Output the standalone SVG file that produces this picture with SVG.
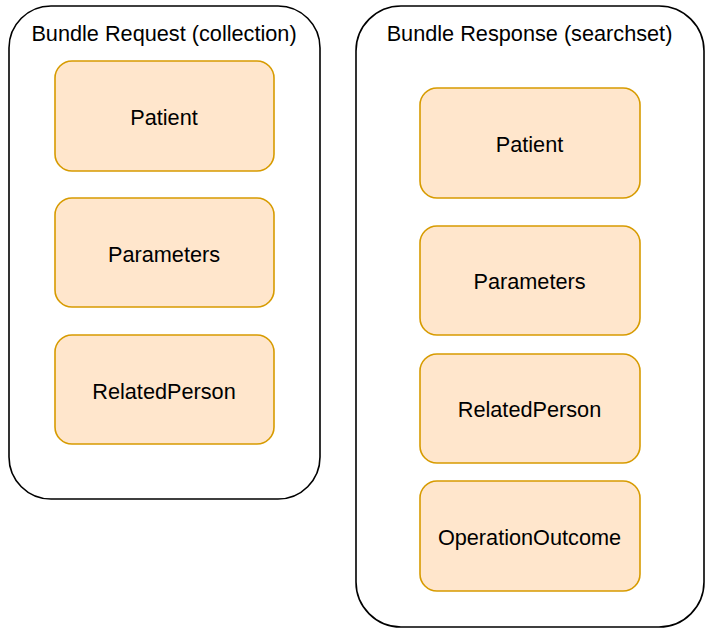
<svg xmlns="http://www.w3.org/2000/svg" width="710" height="636" viewBox="0 0 710 636">
<style>
.container{fill:#ffffff;stroke:#000000;stroke-width:1.6}
.item{fill:#ffe6cc;stroke:#d79b00;stroke-width:1.6}
text{font-family:"Liberation Sans",Arial,sans-serif;font-size:21.7px;fill:#000000;text-anchor:middle}
</style>
<rect width="710" height="636" fill="#ffffff"/>
<g id="bundle-request">
<rect class="container" x="9" y="6" width="311" height="493" rx="42" ry="42"/>
<text x="164" y="41">Bundle Request (collection)</text>
</g>
<g id="req-patient">
<rect class="item" x="55" y="61" width="219" height="110" rx="17" ry="17"/>
<text x="164" y="125">Patient</text>
</g>
<g id="req-parameters">
<rect class="item" x="55" y="198" width="219" height="109" rx="17" ry="17"/>
<text x="164" y="262">Parameters</text>
</g>
<g id="req-relatedperson">
<rect class="item" x="55" y="335" width="219" height="109" rx="17" ry="17"/>
<text x="164" y="399">RelatedPerson</text>
</g>
<g id="bundle-response">
<rect class="container" x="356" y="6" width="348" height="621" rx="45" ry="45"/>
<text x="529.5" y="41">Bundle Response (searchset)</text>
</g>
<g id="res-patient">
<rect class="item" x="420" y="88" width="220" height="110" rx="17" ry="17"/>
<text x="529.5" y="152">Patient</text>
</g>
<g id="res-parameters">
<rect class="item" x="420" y="226" width="220" height="109" rx="17" ry="17"/>
<text x="529.5" y="289">Parameters</text>
</g>
<g id="res-relatedperson">
<rect class="item" x="420" y="354" width="220" height="109" rx="17" ry="17"/>
<text x="529.5" y="417">RelatedPerson</text>
</g>
<g id="res-operationoutcome">
<rect class="item" x="420" y="481" width="220" height="110" rx="17" ry="17"/>
<text x="529.5" y="545">OperationOutcome</text>
</g>
<g id="connectors"></g>
</svg>
